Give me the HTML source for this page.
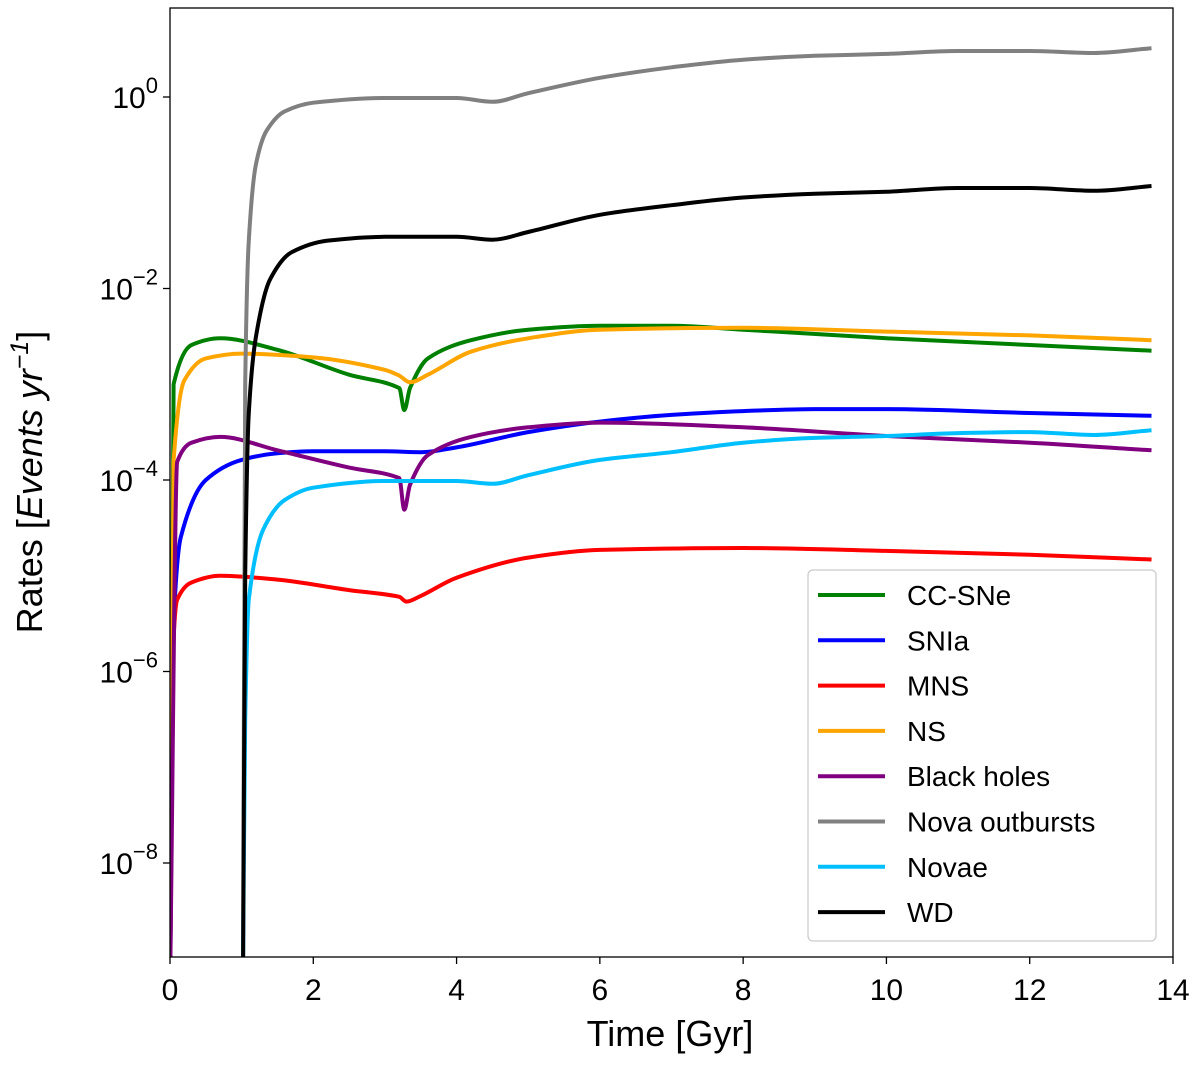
<!DOCTYPE html>
<html><head><meta charset="utf-8"><style>
body{margin:0;background:#fff}
svg text{font-family:"Liberation Sans","DejaVu Sans",sans-serif;fill:#000}
</style></head><body>
<svg id="chart" width="1200" height="1064" viewBox="0 0 1200 1064" xmlns="http://www.w3.org/2000/svg">
<g id="plot"></g>
<g id="axes"></g>
<g id="legend"></g>
</svg>
<script>
const xTicks=[0,2,4,6,8,10,12,14];
const yTickExps=[0,-2,-4,-6,-8];
const seriesNames=["CC-SNe","SNIa","MNS","NS","Black holes","Nova outbursts","Novae","WD"];
const seriesColors=["#008000","#0000ff","#ff0000","#ffa500","#800080","#808080","#00bfff","#000000"];
const ccT=[0.005,0.05,0.3,0.7,1.5,2.5,3.2,3.27,3.35,3.6,4.2,5,6,7,8,10,12,13.7];
const ccV=[-9,-3.0,-2.59,-2.52,-2.64,-2.9,-3.04,-3.27,-3.04,-2.73,-2.54,-2.43,-2.39,-2.39,-2.43,-2.52,-2.59,-2.65];
const snT=[0.005,0.05,0.15,0.5,1,1.5,2,3,3.5,4,5,6,7,8,9,10,12,13.7];
const snV=[-9,-5.5,-4.6,-4.0,-3.79,-3.72,-3.70,-3.70,-3.71,-3.66,-3.50,-3.39,-3.32,-3.28,-3.26,-3.26,-3.30,-3.33];
const mnsT=[0.005,0.03,0.1,0.3,0.7,1.5,2.5,3.2,3.3,3.5,4,5,6,8,10,12,13.7];
const mnsV=[-9,-6,-5.25,-5.07,-5.0,-5.04,-5.15,-5.22,-5.27,-5.21,-5.02,-4.81,-4.73,-4.71,-4.74,-4.78,-4.83];
const nsT=[0.005,0.05,0.2,0.5,1,2,3,3.2,3.35,3.6,4.2,5,6,8,10,12,13.7];
const nsV=[-9,-3.8,-2.96,-2.73,-2.68,-2.72,-2.85,-2.91,-2.98,-2.9,-2.66,-2.52,-2.43,-2.41,-2.45,-2.49,-2.54];
const bhT=[0.005,0.1,0.3,0.7,1.5,2.5,3.2,3.27,3.35,3.6,4.2,5,6,8,10,12,13.7];
const bhV=[-9,-3.81,-3.61,-3.55,-3.69,-3.87,-3.98,-4.31,-4.05,-3.74,-3.55,-3.45,-3.40,-3.45,-3.54,-3.61,-3.69];
const noT=[1.02,1.05,1.1,1.2,1.35,1.6,2,3,4,4.5,5,6,7,8,9,10,11,12,12.9,13.7];
const noV=[-9,-3.0,-1.5,-0.7,-0.35,-0.15,-0.06,-0.01,-0.01,-0.05,0.04,0.2,0.31,0.39,0.43,0.45,0.48,0.48,0.46,0.51];
const nvT=[1.02,1.05,1.1,1.3,1.6,2,3,4,4.5,5,6,7,8,9,10,11,12,12.9,13.7];
const nvV=[-9,-6.5,-5.25,-4.52,-4.21,-4.08,-4.01,-4.01,-4.04,-3.95,-3.79,-3.71,-3.61,-3.56,-3.54,-3.51,-3.50,-3.53,-3.48];
const wdT=[1.02,1.05,1.1,1.2,1.4,1.7,2.2,3,4,4.5,5,6,7,8,9,10,11,12,12.9,13.7];
const wdV=[-9,-5,-3.3,-2.5,-1.9,-1.62,-1.5,-1.46,-1.46,-1.49,-1.41,-1.23,-1.13,-1.05,-1.01,-0.99,-0.95,-0.95,-0.98,-0.93];
const allT=[ccT,snT,mnsT,nsT,bhT,noT,nvT,wdT];
const allV=[ccV,snV,mnsV,nsV,bhV,noV,nvV,wdV];

const L=170,R=1173,T=8,B=957;
const xs=t=>L+t*(R-L)/14;
const ys=e=>97-95.75*e;
const NS="http://www.w3.org/2000/svg";
function mk(tag,attrs,parent){const e=document.createElementNS(NS,tag);for(const k in attrs)e.setAttribute(k,attrs[k]);parent.appendChild(e);return e;}
function monoPath(px,py){
  const n=px.length,d=[],m=[];
  for(let i=0;i<n-1;i++)d.push((py[i+1]-py[i])/(px[i+1]-px[i]));
  m[0]=d[0];m[n-1]=d[n-2];
  for(let i=1;i<n-1;i++){m[i]=(d[i-1]*d[i]<=0)?0:(2*d[i-1]*d[i])/(d[i-1]+d[i]);}
  let s='M'+px[0].toFixed(1)+','+py[0].toFixed(1);
  for(let i=0;i<n-1;i++){const h=px[i+1]-px[i];
    s+='C'+(px[i]+h/3).toFixed(1)+','+(py[i]+m[i]*h/3).toFixed(1)+' '+(px[i+1]-h/3).toFixed(1)+','+(py[i+1]-m[i+1]*h/3).toFixed(1)+' '+px[i+1].toFixed(1)+','+py[i+1].toFixed(1);}
  return s;
}
const plot=document.getElementById('plot'),axes=document.getElementById('axes'),leg=document.getElementById('legend');
const clip=mk('clipPath',{id:'cp'},plot);mk('rect',{x:L,y:T,width:R-L,height:B-T},clip);
const names=["cc-sne","snia","mns","ns","black-holes","nova-outbursts","novae","wd"];
allT.forEach((ts,i)=>{
  const px=ts.map(xs),py=allV[i].map(v=>ys(Math.max(v,-9.3)));
  const p=mk('path',{d:monoPath(px,py),fill:'none',stroke:seriesColors[i],'stroke-width':4,'stroke-linejoin':'round','clip-path':'url(#cp)'},plot);
  
  
});
const frame=mk('rect',{x:L,y:T,width:R-L,height:B-T,fill:'none',stroke:'#000','stroke-width':1.3},axes);


xTicks.forEach(t=>{
  mk('line',{x1:xs(t),x2:xs(t),y1:B,y2:B+7,stroke:'#000','stroke-width':1.3},axes);
  const tx=mk('text',{x:xs(t),y:1000,'font-size':30,'text-anchor':'middle'},axes);tx.textContent=t;
  
  
});
yTickExps.forEach(e=>{
  const y=ys(e);
  mk('line',{x1:L-7,x2:L,y1:y,y2:y,stroke:'#000','stroke-width':1.3},axes);
  const tx=mk('text',{x:158,y:y+11,'font-size':30,'text-anchor':'end'},axes);
  
  
  const a=mk('tspan',{},tx);a.textContent='10';
  const b=mk('tspan',{dy:-15,'font-size':22},tx);b.textContent=e===0?'0':'\u2212'+(-e);
});
const xt=mk('text',{x:670,y:1046,'font-size':36,'text-anchor':'middle'},axes);xt.textContent='Time [Gyr]';


const yt=mk('text',{x:0,y:0,'font-size':36,'text-anchor':'middle',transform:'translate(42,482) rotate(-90)'},axes);


const y1=mk('tspan',{},yt);y1.textContent='Rates [';
const y2=mk('tspan',{'font-style':'italic'},yt);y2.textContent='Events yr';
const y3=mk('tspan',{dy:-14,'font-size':25,'font-style':'italic'},yt);y3.textContent='\u22121';
const y4=mk('tspan',{dy:14},yt);y4.textContent=']';
const box=mk('rect',{x:808,y:570,width:348,height:371,rx:5,fill:'#fff','fill-opacity':0.85,stroke:'#ccc','stroke-width':1.3},leg);


seriesNames.forEach((n,i)=>{
  const y=595+i*45.3;
  const g=mk('g',{},leg);
  
  
  mk('line',{x1:818,x2:885,y1:y,y2:y,stroke:seriesColors[i],'stroke-width':4},g);
  const t=mk('text',{x:907,y:y+10,'font-size':28},g);t.textContent=n;
});
</script>
</body></html>
